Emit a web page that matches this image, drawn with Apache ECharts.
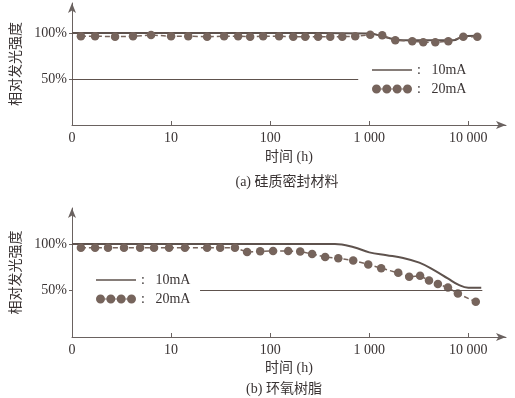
<!DOCTYPE html>
<html>
<head>
<meta charset="utf-8">
<script src="https://cdn.jsdelivr.net/npm/echarts@6/dist/echarts.min.js"></script>
<style>
  html, body { margin: 0; padding: 0; background: #fff; }
  #chart { width: 515px; height: 398px; }
</style>
</head>
<body>
<div id="chart"></div>
<script>
// --- 数据 (时间 h, 相对发光强度 %) ---
// (a) 硅质密封材料
const topHours10 = [1, 100, 1000, 1500, 2200, 7000, 9000, 13000]
const topValues10 = [100, 100, 99.5, 95, 92, 92, 96.5, 97]
const topHours20 = [1.23, 1.71, 2.72, 4.13, 6.28, 10, 14.9, 23.1, 34.3, 47.5, 62.8, 84.9, 123, 171, 226, 305, 404, 534, 722, 1023, 1352, 1832, 2718, 3510, 4642, 6280, 8895, 12330]
const topValues20 = [96.5, 96.5, 96, 96.5, 97.8, 96.5, 96.5, 96, 96.5, 96.5, 96, 96.5, 96.5, 96, 96, 96, 96, 96, 96.5, 98, 97.5, 92, 91, 90, 90, 91, 96, 96]
const topRefLine = [1, 774]

// (b) 环氧树脂
const botHours10 = [1, 450, 700, 1000, 1500, 2200, 3200, 4500, 6200, 8000, 10000, 13500]
const botValues10 = [100, 100, 96.5, 91, 88, 85, 80, 72, 63, 56, 53, 53]
const botHours20 = [1.23, 1.71, 2.31, 3.35, 4.87, 6.73, 9.54, 13.8, 23.1, 31.3, 44.1, 58.5, 79.3, 107, 152, 201, 265, 359, 487, 689, 977, 1320, 1960, 2530, 3260, 4010, 4930, 6230, 7840, 11890]
const botValues20 = [96, 96, 96, 96, 96, 96, 96, 96, 96, 96, 96, 91.4, 92.2, 92.5, 92.5, 91.9, 89.2, 86, 84.6, 82.3, 78, 73.9, 69, 64.7, 65.8, 60.8, 57, 53.1, 46.7, 37.8]
const botRefLine = [19.6, 13850]

// --- 刻度 ---
const xTickValues = [1, 10, 100, 1000, 10000]
const xTickLabels = ['0', '10', '100', '1 000', '10 000']
const yTickValues = [50, 100]
const yTickLabels = ['50%', '100%']

const LINE_COLOR = '#5e524d'
const DOT_COLOR = '#76645c'
const AXIS_COLOR = '#6a6260'
const TEXT_COLOR = '#3a3434'
const SERIF = '"Liberation Serif", "Noto Sans CJK SC", serif'

const zip = (xs, ys) => xs.map((x, i) => [x, ys[i]])

// 图例图标：实线 / 四个连珠圆点
const lineIcon = 'path://M0,0 M0,4.2 L40,4.2 L40,5.8 L0,5.8 Z M40,10'
const circle = cx => `M${cx - 4.5},5 a4.5,4.5 0 1,0 9,0 a4.5,4.5 0 1,0 -9,0 Z `
const link = x0 => `M${x0},4.4 L${x0 + 1.33},4.4 L${x0 + 1.33},5.6 L${x0},5.6 Z `
const dotIcon = 'path://M0,0 M40,10 ' +
  circle(4.5) + link(9) + circle(14.83) + link(19.33) + circle(25.17) + link(29.67) + circle(35.5)

const makeX = (gridIndex, nameGap) => ({
  type: 'log',
  gridIndex,
  min: 1,
  max: 24000,
  name: '时间 (h)',
  nameLocation: 'middle',
  nameGap,
  nameTextStyle: { color: TEXT_COLOR, fontSize: 14, fontFamily: SERIF },
  axisLine: { lineStyle: { color: AXIS_COLOR, width: 1 }, symbol: ['none', 'arrow'], symbolSize: [6, 10] },
  axisTick: { inside: true, length: 4, lineStyle: { color: AXIS_COLOR }, customValues: xTickValues.slice(1) },
  axisLabel: {
    color: TEXT_COLOR, fontSize: 14, fontFamily: SERIF, margin: 6,
    customValues: xTickValues,
    formatter: v => xTickLabels[xTickValues.indexOf(Math.round(v))] || ''
  },
  splitLine: { show: false }
})

const makeY = (gridIndex, max) => ({
  type: 'value',
  gridIndex,
  min: 0,
  max,
  name: '相对发光强度',
  nameLocation: 'middle',
  nameRotate: 90,
  nameGap: 41,
  nameTextStyle: { color: TEXT_COLOR, fontSize: 14, fontFamily: SERIF },
  axisLine: { show: true, lineStyle: { color: AXIS_COLOR, width: 1 }, symbol: ['none', 'arrow'], symbolSize: [6, 10] },
  axisTick: { show: true, length: 3, lineStyle: { color: AXIS_COLOR }, customValues: yTickValues },
  axisLabel: {
    color: TEXT_COLOR, fontSize: 14, fontFamily: SERIF, margin: 5,
    customValues: yTickValues,
    formatter: v => yTickLabels[yTickValues.indexOf(Math.round(v))] || ''
  },
  splitLine: { show: false }
})

const refMark = (range) => ({
  silent: true,
  symbol: 'none',
  label: { show: false },
  lineStyle: { color: LINE_COLOR, width: 1, type: 'solid' },
  data: [[{ coord: [range[0], 50] }, { coord: [range[1], 50] }]]
})

const line10 = (idx, data, range) => ({
  name: '10mA',
  type: 'line',
  xAxisIndex: idx,
  yAxisIndex: idx,
  data,
  showSymbol: false,
  smooth: 0.4,
  lineStyle: { color: LINE_COLOR, width: 2 },
  itemStyle: { color: LINE_COLOR },
  markLine: refMark(range)
})

const line20 = (idx, data) => ({
  name: '20mA',
  type: 'line',
  xAxisIndex: idx,
  yAxisIndex: idx,
  data,
  symbol: 'circle',
  symbolSize: 8.5,
  lineStyle: { color: DOT_COLOR, width: 1.5, type: [5, 3] },
  itemStyle: { color: DOT_COLOR }
})

const legendStyle = {
  orient: 'vertical',
  padding: 0,
  itemWidth: 40,
  itemHeight: 10,
  itemGap: 5,
  textStyle: { color: TEXT_COLOR, fontSize: 14, fontFamily: SERIF },
  formatter: name => ':   ' + name,
  selectedMode: false
}

const chart = echarts.init(document.getElementById('chart'))
chart.setOption({
  backgroundColor: '#fff',
  animation: false,
  grid: [
    { left: 72, top: 3, width: 434, height: 122 },
    { left: 72, top: 208, width: 434, height: 129 }
  ],
  xAxis: [makeX(0, 25), makeX(1, 24)],
  yAxis: [makeY(0, 132.6), makeY(1, 138.7)],
  title: [
    { text: '(a) 硅质密封材料', left: 282, top: 170, textAlign: 'center',
      textStyle: { color: TEXT_COLOR, fontSize: 14, fontWeight: 'normal', fontFamily: SERIF } },
    { text: '(b) 环氧树脂', left: 279, top: 377, textAlign: 'center',
      textStyle: { color: TEXT_COLOR, fontSize: 14, fontWeight: 'normal', fontFamily: SERIF } }
  ],
  legend: [
    { ...legendStyle, left: 372, top: 63,
      data: [{ name: '10mA', icon: lineIcon }, { name: '20mA', icon: dotIcon }] },
    { ...legendStyle, left: 96, top: 273,
      data: [{ name: '10mA', icon: lineIcon }, { name: '20mA', icon: dotIcon }] }
  ],
  series: [
    line10(0, zip(topHours10, topValues10), topRefLine),
    line20(0, zip(topHours20, topValues20)),
    line10(1, zip(botHours10, botValues10), botRefLine),
    line20(1, zip(botHours20, botValues20))
  ]
})
</script>
</body>
</html>
